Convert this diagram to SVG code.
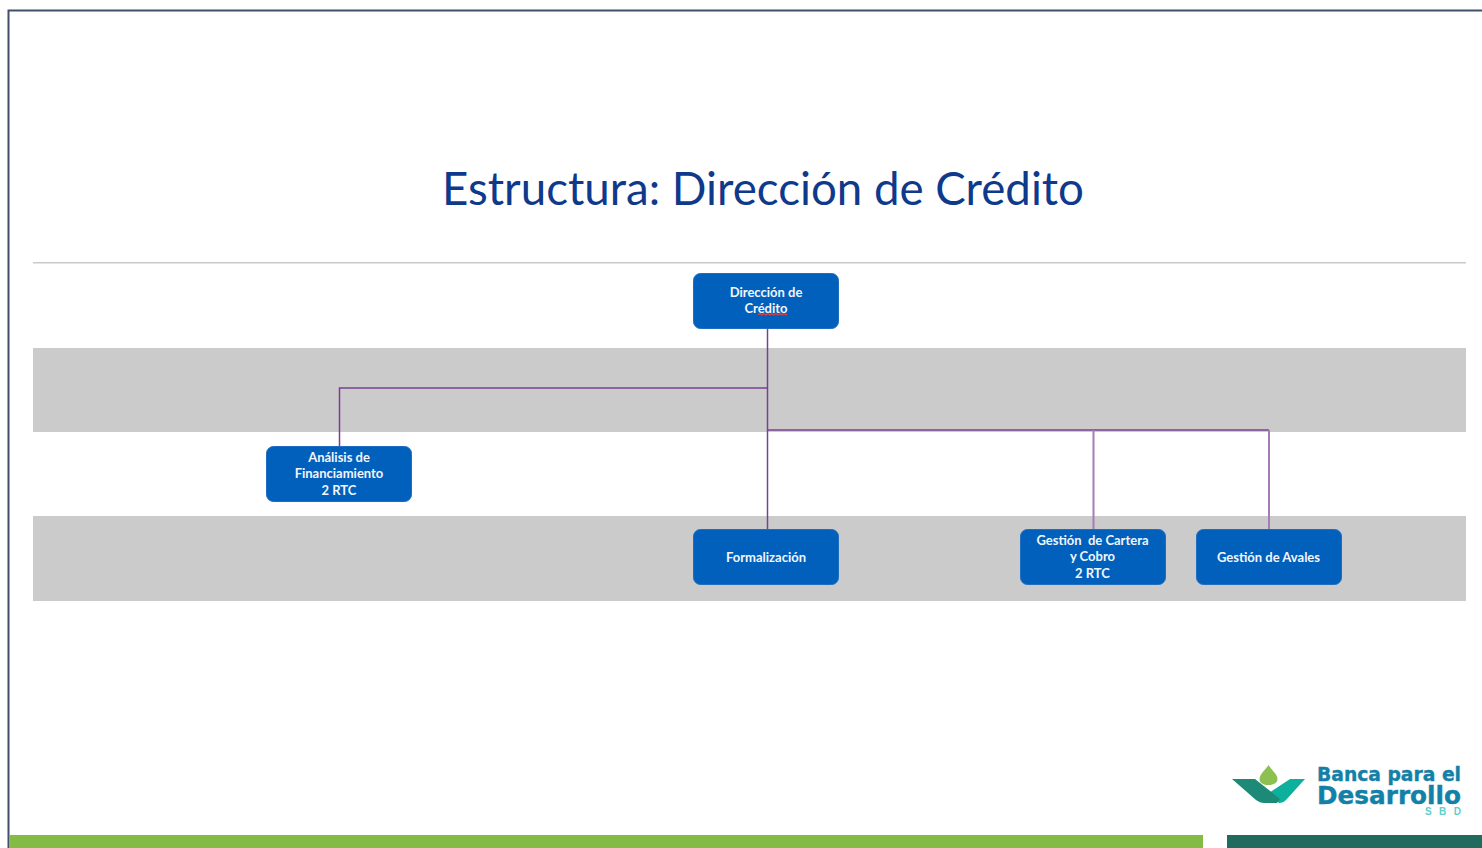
<svg xmlns="http://www.w3.org/2000/svg" width="1482" height="848" viewBox="0 0 1482 848">
<style>
.band{fill:#cbcbcb}
.box{fill:#0060bb;stroke:#1f6cc0;stroke-width:1}
.lbl{font-family:"Lato","Open Sans","Liberation Sans",sans-serif;font-size:13px;font-weight:700;fill:#f2f6fb;text-anchor:middle}
.con{fill:none;stroke:#7b3f92;stroke-width:1.5}
.con2{fill:none;stroke:#a77ab8;stroke-width:2}
.logo{font-family:"DejaVu Sans","Liberation Sans",sans-serif;font-weight:700;fill:#1380a8;stroke:#1380a8;stroke-width:.4}
</style>
<rect width="1482" height="848" fill="#fff"/>
<path d="M8.500 848V10.500H1482" fill="none" stroke="#3f4f6c" stroke-width="2"/>
<text x="442" y="205" font-family="Lato,'Open Sans','Liberation Sans',sans-serif" font-size="46" fill="#0f3a8c" textLength="642" lengthAdjust="spacingAndGlyphs">Estructura: Dirección de Crédito</text>
<rect x="33" y="262" width="1433" height="1.500" fill="#c9c9c9"/>
<rect class="band" x="33" y="348" width="1433" height="84"/>
<rect class="band" x="33" y="516" width="1433" height="85"/>
<g id="connectors">
<path class="con" d="M767.500 329V529"/>
<path class="con" d="M767.500 388H339.500V446"/>
<path class="con" d="M767.500 430H1269"/>
<path class="con2" d="M1093.500 430V529"/>
<path class="con2" d="M1269 430V529"/>
</g>
<g id="node-direccion">
<rect class="box" x="693.500" y="273.500" width="145" height="55" rx="7"/>
<text class="lbl" x="766" y="297">Dirección de</text>
<text class="lbl" x="766" y="313">Crédito</text>
<path d="M758 315l2 -1.500l2 1.500l2 -1.500l2 1.500l2 -1.500l2 1.500l2 -1.500l2 1.500l2 -1.500l2 1.500l2 -1.500l2 1.500l2 -1.500l2 1.500l1 -1" fill="none" stroke="#e0403f" stroke-width="1.200"/>
</g>
<g id="node-analisis">
<rect class="box" x="266.500" y="446.500" width="145" height="55" rx="7"/>
<text class="lbl" x="339" y="462">Análisis de</text>
<text class="lbl" x="339" y="478">Financiamiento</text>
<text class="lbl" x="339" y="495">2 RTC</text>
</g>
<g id="node-formalizacion">
<rect class="box" x="693.500" y="529.500" width="145" height="55" rx="7"/>
<text class="lbl" x="766" y="562">Formalización</text>
</g>
<g id="node-cartera">
<rect class="box" x="1020.500" y="529.500" width="145" height="55" rx="7"/>
<text class="lbl" x="1092.500" y="545" xml:space="preserve">Gestión  de Cartera</text>
<text class="lbl" x="1092.500" y="561">y Cobro</text>
<text class="lbl" x="1092.500" y="578">2 RTC</text>
</g>
<g id="node-avales">
<rect class="box" x="1196.500" y="529.500" width="145" height="55" rx="7"/>
<text class="lbl" x="1268.500" y="562">Gestión de Avales</text>
</g>
<rect x="9" y="835" width="1194" height="13" fill="#84bb45"/>
<rect x="1227" y="835" width="255" height="13" fill="#206a5e"/>
<path d="M1268.500 765c3 5 9 9 9 14c0 4 -4 6 -9 6s-9 -2 -9 -6c0 -5 6 -9 9 -14z" fill="#8cc152"/>
<path d="M1305 779H1290L1269 793L1279 803C1282 803 1284 802 1286 800z" fill="#0cb09c"/>
<path d="M1232 779H1255L1280 799L1277 803H1264C1261 803 1259 802 1256 800z" fill="#1d8a78"/>
<text class="logo" x="1317" y="781" font-size="19.500" textLength="144" lengthAdjust="spacingAndGlyphs">Banca para el</text>
<text class="logo" x="1317" y="804" font-size="25.500" textLength="144" lengthAdjust="spacingAndGlyphs">Desarrollo</text>
<text x="1425" y="815" font-family="'Liberation Sans',sans-serif" font-size="10" font-weight="700" fill="#5fd0c6" textLength="36">SBD</text>
</svg>
